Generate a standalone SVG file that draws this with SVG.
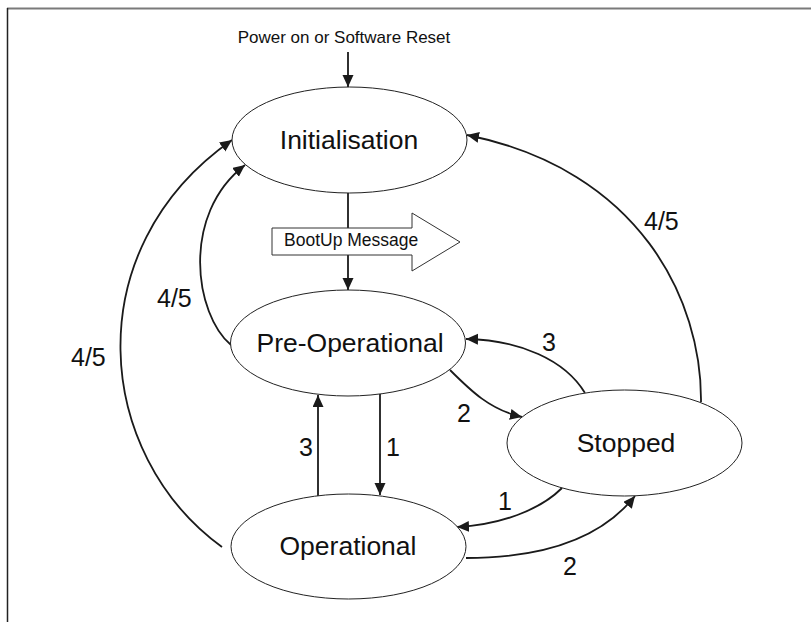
<svg xmlns="http://www.w3.org/2000/svg" width="811" height="622" viewBox="0 0 811 622">
<style>
.node{fill:#fff;stroke:#222;stroke-width:1}
.nt{font-family:"Liberation Sans",Arial,sans-serif;font-size:26.5px;fill:#111;text-anchor:middle}
.lb{font-family:"Liberation Sans",Arial,sans-serif;font-size:25px;fill:#111}
.c{fill:none;stroke:#1a1a1a;stroke-width:1.8;marker-end:url(#ah)}
</style>
<defs>
<marker id="ah" markerUnits="userSpaceOnUse" markerWidth="13" markerHeight="12" refX="12" refY="5.5" orient="auto">
<path d="M0,0 L12,5.5 L0,11 z" fill="#1a1a1a"/>
</marker>
</defs>
<rect width="811" height="622" fill="#fff"/>
<g id="frame">
<line x1="7" y1="8.5" x2="811" y2="8.5" stroke="#7a7a7a" stroke-width="2"/>
<line x1="7.5" y1="8" x2="7.5" y2="622" stroke="#222" stroke-width="1.5"/>
</g>
<text x="344" y="43" font-family="'Liberation Sans',Arial,sans-serif" font-size="17" fill="#111" text-anchor="middle">Power on or Software Reset</text>
<g id="connectors">
<path class="c" d="M348,52 L348,87"/>
<path class="c" d="M348,193 L348,290"/>
<path class="c" d="M380,394 L380,495"/>
<path class="c" d="M318,496 L318,395"/>
<path class="c" d="M450,370 C470,390 490,410 522,417"/>
<path class="c" d="M585,393 C565,360 520,340 466,339"/>
<path class="c" d="M562,488 C540,510 500,525 457,527"/>
<path class="c" d="M466,558 C540,558 600,540 635,496"/>
<path class="c" d="M701,402 C702,300 640,170 467,135"/>
<path class="c" d="M231,345 C195,315 180,215 245,165"/>
<path class="c" d="M222,547 C95,455 75,250 232,140"/>
</g>
<g id="bootup">
<polygon points="272,228 412,228 412,213 460,242 412,271 412,255 272,255" fill="#fff" stroke="#333" stroke-width="1"/>
<text x="284" y="246" font-family="'Liberation Sans',Arial,sans-serif" font-size="17.5" fill="#111">BootUp Message</text>
</g>
<g id="labels">
<text class="lb" x="644" y="230">4/5</text>
<text class="lb" x="157" y="307">4/5</text>
<text class="lb" x="71" y="366">4/5</text>
<text class="lb" x="299" y="456">3</text>
<text class="lb" x="386" y="456">1</text>
<text class="lb" x="457" y="422">2</text>
<text class="lb" x="542" y="351">3</text>
<text class="lb" x="498" y="510">1</text>
<text class="lb" x="563" y="575">2</text>
</g>
<g id="initialisation">
<ellipse class="node" cx="349.5" cy="140" rx="117.5" ry="53"/>
<text class="nt" x="349" y="149">Initialisation</text>
</g>
<g id="preoperational">
<ellipse class="node" cx="348" cy="343" rx="117.5" ry="53"/>
<text class="nt" x="350" y="352">Pre-Operational</text>
</g>
<g id="operational">
<ellipse class="node" cx="348.5" cy="546.5" rx="117.5" ry="52.5"/>
<text class="nt" x="348" y="555">Operational</text>
</g>
<g id="stopped">
<ellipse class="node" cx="624.5" cy="443" rx="117.5" ry="53"/>
<text class="nt" x="626" y="452">Stopped</text>
</g>
</svg>
